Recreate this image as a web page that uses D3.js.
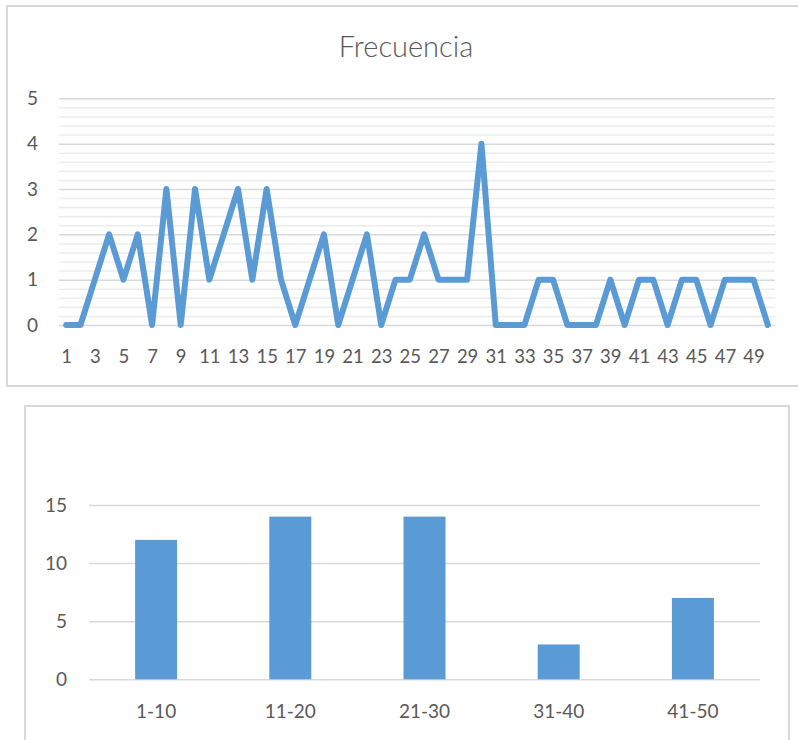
<!DOCTYPE html>
<html>
<head>
<meta charset="utf-8">
<script src="https://cdn.jsdelivr.net/npm/d3@7"></script>
<style>
  body { margin: 0; background: #fff; }
  text { font-family: Lato, "Open Sans", sans-serif; fill: #595959; }
</style>
</head>
<body>
<div id="grafico"></div>
<script>
// datos
const dias = [1, 2, 3, 4, 5, 6, 7, 8, 9, 10, 11, 12, 13, 14, 15, 16, 17, 18, 19, 20,
  21, 22, 23, 24, 25, 26, 27, 28, 29, 30, 31, 32, 33, 34, 35, 36, 37, 38, 39, 40,
  41, 42, 43, 44, 45, 46, 47, 48, 49, 50];
const frecuencia = [0, 0, 1, 2, 1, 2, 0, 3, 0, 3, 1, 2, 3, 1, 3, 1, 0, 1, 2, 0,
  1, 2, 0, 1, 1, 2, 1, 1, 1, 4, 0, 0, 0, 1, 1, 0, 0, 0, 1, 0,
  1, 1, 0, 1, 1, 0, 1, 1, 1, 0];
const etiquetasDias = [1, 3, 5, 7, 9, 11, 13, 15, 17, 19, 21, 23, 25, 27, 29, 31, 33, 35, 37, 39, 41, 43, 45, 47, 49];
const ticksLinea = [0, 1, 2, 3, 4, 5];

const rangos = ["1-10", "11-20", "21-30", "31-40", "41-50"];
const totales = [12, 14, 14, 3, 7];
const ticksBarras = [0, 5, 10, 15];

const azul = "#5b9bd5";

const svg = d3.select("#grafico").append("svg")
  .attr("width", 798)
  .attr("height", 740);

// ---- grafico de linea ----
svg.append("rect")
  .attr("x", 7).attr("y", 6)
  .attr("width", 810).attr("height", 380)
  .attr("fill", "#fff")
  .attr("stroke", "#d9d9d9").attr("stroke-width", 2);

svg.append("text")
  .attr("x", 406).attr("y", 57)
  .attr("text-anchor", "middle")
  .style("font-size", "29px")
  .style("font-weight", 300)
  .text("Frecuencia");

const x1 = d3.scalePoint().domain(dias).range([59, 775]).padding(0.5);
const y1 = d3.scaleLinear().domain([0, 5]).range([325, 98.3]);

// lineas menores
svg.append("g")
  .attr("transform", "translate(59,0)")
  .call(d3.axisLeft(y1).tickValues(y1.ticks(25).filter(d => Math.abs(d - Math.round(d)) > 0.01))
    .tickSize(-(775 - 59)).tickFormat(""))
  .call(g => g.select(".domain").remove())
  .call(g => g.selectAll("line").attr("stroke", "#ececec").attr("stroke-width", 1.5));

// lineas principales
svg.append("g")
  .attr("transform", "translate(59,0)")
  .call(d3.axisLeft(y1).tickValues(ticksLinea).tickSize(-(775 - 59)).tickPadding(21).tickFormat(d3.format("d")))
  .call(g => g.select(".domain").remove())
  .call(g => g.selectAll("line").attr("stroke", "#d9d9d9").attr("stroke-width", 1.5))
  .call(g => g.selectAll("text").style("font-size", "19px").attr("fill", "#595959"));

svg.append("g")
  .attr("transform", "translate(0,325)")
  .call(d3.axisBottom(x1).tickValues(etiquetasDias).tickSize(0).tickPadding(25))
  .call(g => g.select(".domain").remove())
  .call(g => g.selectAll("text").style("font-size", "18.5px").attr("fill", "#595959"));

svg.append("path")
  .datum(frecuencia)
  .attr("fill", "none")
  .attr("stroke", azul)
  .attr("stroke-width", 6)
  .attr("stroke-linejoin", "round")
  .attr("stroke-linecap", "round")
  .attr("d", d3.line().x((d, i) => x1(dias[i])).y(d => y1(d)));

// ---- grafico de barras ----
svg.append("rect")
  .attr("x", 25).attr("y", 406)
  .attr("width", 764).attr("height", 360)
  .attr("fill", "#fff")
  .attr("stroke", "#d9d9d9").attr("stroke-width", 2);

const x2 = d3.scaleBand().domain(rangos).range([89, 760]).paddingInner(0.687).paddingOuter(0.3435);
const y2 = d3.scaleLinear().domain([0, 15]).range([679.3, 505]);

svg.append("g")
  .attr("transform", "translate(89,0)")
  .call(d3.axisLeft(y2).tickValues(ticksBarras).tickSize(-(760 - 89)).tickPadding(22))
  .call(g => g.select(".domain").remove())
  .call(g => g.selectAll("line").attr("stroke", "#d9d9d9").attr("stroke-width", 1.5))
  .call(g => g.selectAll("text").style("font-size", "19px").attr("fill", "#595959"));

svg.append("g")
  .attr("transform", "translate(0,679.3)")
  .call(d3.axisBottom(x2).tickSize(0).tickPadding(25))
  .call(g => g.select(".domain").remove())
  .call(g => g.selectAll("text").style("font-size", "19px").attr("fill", "#595959"));

svg.selectAll(".barra")
  .data(totales)
  .enter()
  .append("rect")
  .attr("class", "barra")
  .attr("x", (d, i) => x2(rangos[i]))
  .attr("y", d => y2(d))
  .attr("width", x2.bandwidth())
  .attr("height", d => y2(0) - y2(d))
  .attr("fill", azul);
</script>
</body>
</html>
